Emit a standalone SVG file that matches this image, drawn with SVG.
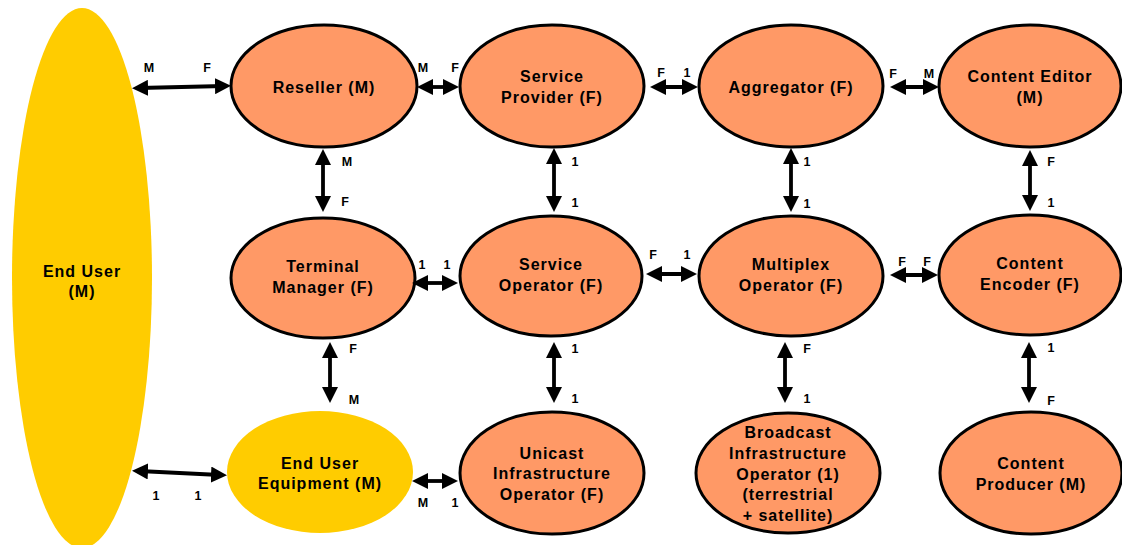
<svg xmlns="http://www.w3.org/2000/svg" width="1122" height="545" viewBox="0 0 1122 545">
  <style>
    .node { fill: #FF9966; stroke: #000; stroke-width: 3; }
    .user { fill: #FFCC00; stroke: none; }
    .label { font-family: "Liberation Sans", Arial, sans-serif; font-weight: bold; font-size: 16px; letter-spacing: 1px; text-anchor: middle; fill: #000; }
    .card { font-family: "Liberation Sans", Arial, sans-serif; font-weight: bold; font-size: 12.5px; text-anchor: middle; fill: #000; }
    .link { stroke: #000; stroke-width: 3.8; fill: none; marker-start: url(#head); marker-end: url(#head); }
  </style>
  <defs>
    <marker id="head" viewBox="0 0 16 16" refX="9" refY="8" markerWidth="16" markerHeight="16" markerUnits="userSpaceOnUse" orient="auto-start-reverse">
      <path d="M0,0 L16,8 L0,16 Z" fill="#000"/>
    </marker>
  </defs>

  <rect width="1122" height="545" fill="#fff"/>

  <!-- End user -->
  <g id="end-user">
    <ellipse class="user" cx="82" cy="278" rx="70" ry="270"/>
    <text class="label" x="82" y="277">End User</text>
    <text class="label" x="82" y="297">(M)</text>
  </g>

  <!-- Top row -->
  <g id="reseller">
    <ellipse class="node" cx="324" cy="86" rx="93" ry="61"/>
    <text class="label" x="324" y="93">Reseller (M)</text>
  </g>
  <g id="service-provider">
    <ellipse class="node" cx="552" cy="86" rx="92" ry="61"/>
    <text class="label" x="552" y="82">Service</text>
    <text class="label" x="552" y="103">Provider (F)</text>
  </g>
  <g id="aggregator">
    <ellipse class="node" cx="791" cy="86" rx="92" ry="61"/>
    <text class="label" x="791" y="93">Aggregator (F)</text>
  </g>
  <g id="content-editor">
    <ellipse class="node" cx="1030" cy="86" rx="91" ry="61"/>
    <text class="label" x="1030" y="82">Content Editor</text>
    <text class="label" x="1030" y="103">(M)</text>
  </g>

  <!-- Middle row -->
  <g id="terminal-manager">
    <ellipse class="node" cx="323" cy="278" rx="92" ry="60"/>
    <text class="label" x="323" y="272">Terminal</text>
    <text class="label" x="323" y="293">Manager (F)</text>
  </g>
  <g id="service-operator">
    <ellipse class="node" cx="551" cy="276" rx="91" ry="60"/>
    <text class="label" x="551" y="270">Service</text>
    <text class="label" x="551" y="291">Operator (F)</text>
  </g>
  <g id="multiplex-operator">
    <ellipse class="node" cx="791" cy="276" rx="92" ry="60"/>
    <text class="label" x="791" y="270">Multiplex</text>
    <text class="label" x="791" y="291">Operator (F)</text>
  </g>
  <g id="content-encoder">
    <ellipse class="node" cx="1030" cy="275" rx="91" ry="60"/>
    <text class="label" x="1030" y="269">Content</text>
    <text class="label" x="1030" y="290">Encoder (F)</text>
  </g>

  <!-- Bottom row -->
  <g id="end-user-equipment">
    <ellipse class="user" cx="320" cy="472" rx="93" ry="61"/>
    <text class="label" x="320" y="469">End User</text>
    <text class="label" x="320" y="489">Equipment (M)</text>
  </g>
  <g id="unicast-infrastructure-operator">
    <ellipse class="node" cx="552" cy="473" rx="92" ry="61"/>
    <text class="label" x="552" y="459">Unicast</text>
    <text class="label" x="552" y="479">Infrastructure</text>
    <text class="label" x="552" y="500">Operator (F)</text>
  </g>
  <g id="broadcast-infrastructure-operator">
    <ellipse class="node" cx="788" cy="473" rx="92" ry="60"/>
    <text class="label" x="788" y="438">Broadcast</text>
    <text class="label" x="788" y="459">Infrastructure</text>
    <text class="label" x="788" y="480">Operator (1)</text>
    <text class="label" x="788" y="500">(terrestrial</text>
    <text class="label" x="788" y="521">+ satellite)</text>
  </g>
  <g id="content-producer">
    <ellipse class="node" cx="1031" cy="473" rx="91" ry="61"/>
    <text class="label" x="1031" y="469">Content</text>
    <text class="label" x="1031" y="490">Producer (M)</text>
  </g>

  <!-- Connectors (line ends sit 7px inside each arrow tip) -->
  <g id="connectors">
    <line class="link" x1="139" y1="88" x2="224" y2="86"/>
    <line class="link" x1="424" y1="87" x2="452" y2="87"/>
    <line class="link" x1="657" y1="87" x2="691" y2="87"/>
    <line class="link" x1="897" y1="87" x2="932" y2="87"/>

    <line class="link" x1="323" y1="156" x2="323" y2="205"/>
    <line class="link" x1="554" y1="155" x2="554" y2="205"/>
    <line class="link" x1="791" y1="155" x2="791" y2="205"/>
    <line class="link" x1="1030" y1="157" x2="1030" y2="204"/>

    <line class="link" x1="419" y1="283" x2="451" y2="283"/>
    <line class="link" x1="653" y1="274" x2="690" y2="274"/>
    <line class="link" x1="897" y1="275" x2="931" y2="275"/>

    <line class="link" x1="330" y1="349" x2="330" y2="396"/>
    <line class="link" x1="554" y1="349" x2="554" y2="396"/>
    <line class="link" x1="785" y1="349" x2="785" y2="396"/>
    <line class="link" x1="1029" y1="349" x2="1029" y2="396"/>

    <line class="link" x1="139" y1="471" x2="220" y2="475"/>
    <line class="link" x1="419" y1="481" x2="451" y2="481"/>

    <!-- cardinalities -->
    <text class="card" x="149" y="72">M</text>
    <text class="card" x="207" y="72">F</text>
    <text class="card" x="423" y="72">M</text>
    <text class="card" x="455" y="72">F</text>
    <text class="card" x="661" y="77">F</text>
    <text class="card" x="687" y="77">1</text>
    <text class="card" x="893" y="78">F</text>
    <text class="card" x="929" y="78">M</text>

    <text class="card" x="347" y="166">M</text>
    <text class="card" x="345" y="206">F</text>
    <text class="card" x="575" y="166">1</text>
    <text class="card" x="575" y="207">1</text>
    <text class="card" x="807" y="166">1</text>
    <text class="card" x="807" y="208">1</text>
    <text class="card" x="1051" y="166">F</text>
    <text class="card" x="1051" y="207">1</text>

    <text class="card" x="422" y="269">1</text>
    <text class="card" x="447" y="269">1</text>
    <text class="card" x="653" y="259">F</text>
    <text class="card" x="687" y="259">1</text>
    <text class="card" x="902" y="266">F</text>
    <text class="card" x="927" y="266">F</text>

    <text class="card" x="353" y="353">F</text>
    <text class="card" x="354" y="404">M</text>
    <text class="card" x="575" y="353">1</text>
    <text class="card" x="575" y="403">1</text>
    <text class="card" x="807" y="353">F</text>
    <text class="card" x="807" y="403">1</text>
    <text class="card" x="1051" y="352">1</text>
    <text class="card" x="1051" y="405">F</text>

    <text class="card" x="156" y="500">1</text>
    <text class="card" x="198" y="500">1</text>
    <text class="card" x="423" y="507">M</text>
    <text class="card" x="455" y="507">1</text>
  </g>
</svg>
